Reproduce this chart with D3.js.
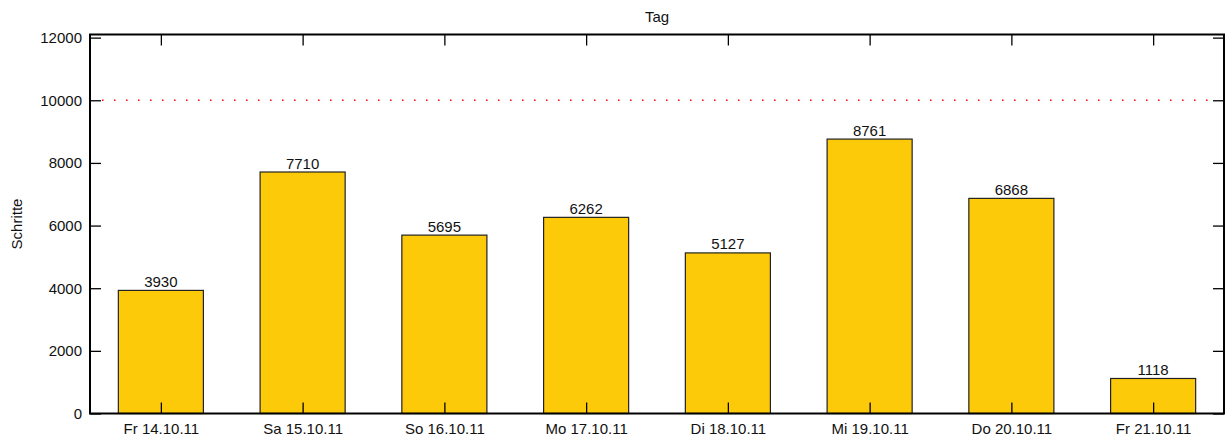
<!DOCTYPE html>
<html>
<head>
<meta charset="utf-8">
<script src="https://cdn.jsdelivr.net/npm/d3@7"></script>
<style>
  html, body { margin: 0; padding: 0; background: #fff; }
  svg { display: block; font-family: "Liberation Sans", Arial, sans-serif; }
</style>
</head>
<body>
<svg id="chart" width="1229" height="441"></svg>
<script>
const categories = ["Fr 14.10.11", "Sa 15.10.11", "So 16.10.11", "Mo 17.10.11", "Di 18.10.11", "Mi 19.10.11", "Do 20.10.11", "Fr 21.10.11"];
const steps = [3930, 7710, 5695, 6262, 5127, 8761, 6868, 1118];
const yTicks = [0, 2000, 4000, 6000, 8000, 10000, 12000];
const goal = 10000;
const title = "Tag";
const yLabel = "Schritte";

const svg = d3.select("#chart");
const L = 90, R = 1224, T = 34.5, B = 413.5;

const x = d3.scaleLinear().domain([-0.5, categories.length - 0.5]).range([L, R]);
const y = d3.scaleLinear().domain([0, 12100]).range([B, T]);
const step = x(1) - x(0);
const bw = step * 0.6;

// goal line
svg.append("line")
  .attr("x1", x(-0.5) + 12).attr("x2", R - 12)
  .attr("y1", y(goal)).attr("y2", y(goal))
  .attr("stroke", "#ff0000").attr("stroke-width", 1.5)
  .attr("stroke-dasharray", "1.5,10.5");

// bars
svg.append("g").selectAll("rect").data(steps).join("rect")
  .attr("x", (d, i) => x(i) - bw / 2)
  .attr("y", d => y(d))
  .attr("width", bw)
  .attr("height", d => B - y(d))
  .attr("fill", "#fdca0a")
  .attr("stroke", "#222")
  .attr("stroke-width", 1.2);

// value labels
svg.append("g").selectAll("text").data(steps).join("text")
  .attr("x", (d, i) => x(i))
  .attr("y", d => y(d) - 3.5)
  .attr("text-anchor", "middle")
  .attr("font-size", 15)
  .attr("fill", "#111")
  .text(d => d);

// axes
const idx = d3.range(categories.length);
const axB = d3.axisBottom(x).tickValues(idx).tickFormat(i => categories[i]).tickSizeInner(-11).tickSizeOuter(0).tickPadding(10);
const axT = d3.axisTop(x).tickValues(idx).tickFormat("").tickSizeInner(-11).tickSizeOuter(0);
const axL = d3.axisLeft(y).tickValues(yTicks).tickFormat(d3.format("d")).tickSizeInner(-11).tickSizeOuter(0).tickPadding(8);
const axR = d3.axisRight(y).tickValues(yTicks).tickFormat("").tickSizeInner(-11).tickSizeOuter(0);

function style(g) {
  g.select(".domain").remove();
  g.selectAll(".tick line").attr("stroke", "#000").attr("stroke-width", 1.3);
  g.selectAll(".tick text").attr("font-size", 15).attr("fill", "#111").attr("font-family", "Liberation Sans, Arial, sans-serif");
}
const gB = svg.append("g").attr("transform", `translate(0,${B})`).call(axB).call(style);
gB.selectAll(".tick text").attr("dy", "0.71em").attr("y", 10);
svg.append("g").attr("transform", `translate(0,${T})`).call(axT).call(style);
svg.append("g").attr("transform", `translate(${L},0)`).call(axL).call(style);
svg.append("g").attr("transform", `translate(${R},0)`).call(axR).call(style);

// border
svg.append("rect").attr("x", L).attr("y", T).attr("width", R - L).attr("height", B - T)
  .attr("fill", "none").attr("stroke", "#000").attr("stroke-width", 2);

// title
svg.append("text").attr("x", (L + R) / 2).attr("y", 22).attr("text-anchor", "middle")
  .attr("font-size", 15).attr("fill", "#111").text(title);

// y label
svg.append("text").attr("transform", `translate(22,${(T + B) / 2}) rotate(-90)`)
  .attr("text-anchor", "middle").attr("font-size", 15).attr("fill", "#111").text(yLabel);
</script>
</body>
</html>
